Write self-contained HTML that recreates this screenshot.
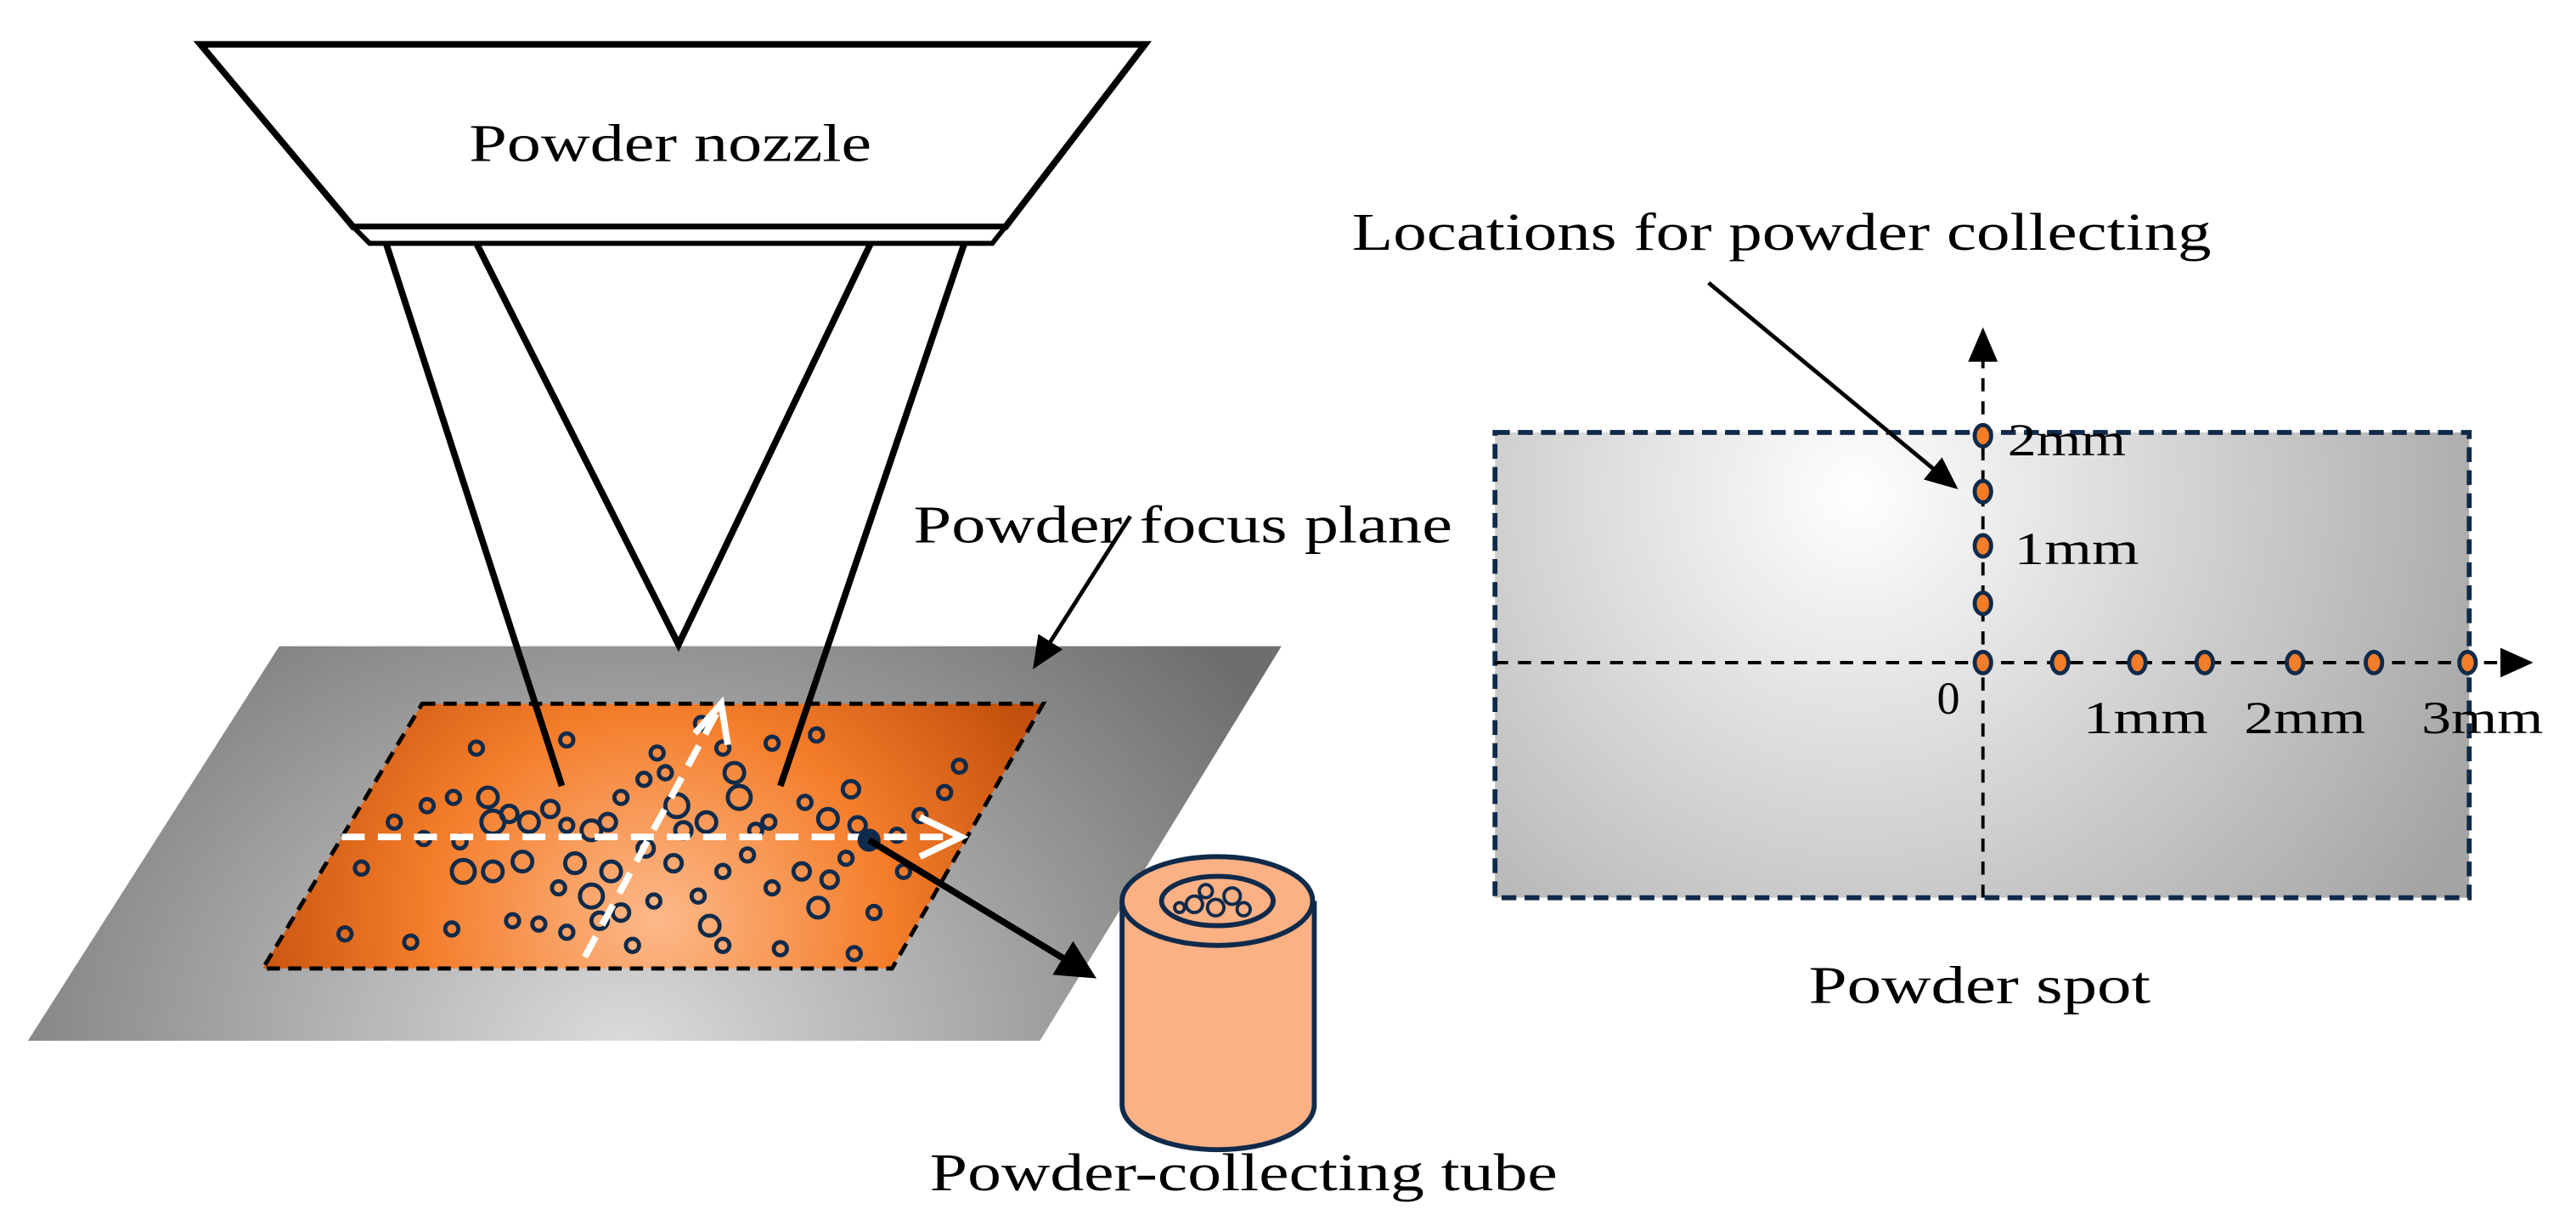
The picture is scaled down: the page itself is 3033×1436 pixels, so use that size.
<!DOCTYPE html>
<html><head><meta charset="utf-8"><style>html,body{margin:0;padding:0;background:#fff}svg{display:block}</style></head>
<body>
<svg width="3033" height="1436" viewBox="0 0 1568 742" preserveAspectRatio="none" xmlns="http://www.w3.org/2000/svg">
<defs>
<radialGradient id="gp" gradientUnits="userSpaceOnUse" cx="380" cy="640" r="470" gradientTransform="translate(380 640) scale(1 0.8) translate(-380 -640)">
<stop offset="0" stop-color="#dcdcdc"/><stop offset="1" stop-color="#6e6e6e"/></radialGradient>
<radialGradient id="go" gradientUnits="userSpaceOnUse" cx="400" cy="560" r="260" gradientTransform="translate(400 560) scale(1 0.9) translate(-400 -560)">
<stop offset="0" stop-color="#fcb98a"/><stop offset="0.55" stop-color="#f47d2a"/><stop offset="1" stop-color="#c24f0c"/></radialGradient>
<radialGradient id="gr" gradientUnits="userSpaceOnUse" cx="1130" cy="300" r="420">
<stop offset="0" stop-color="#ffffff"/><stop offset="1" stop-color="#a4a4a4"/></radialGradient>
<marker id="ah" markerWidth="6" markerHeight="6" refX="5" refY="3" orient="auto" markerUnits="strokeWidth"><path d="M0,0L6,3L0,6z" fill="#000"/></marker>
<marker id="ah2" markerWidth="8" markerHeight="8" refX="7" refY="4" orient="auto" markerUnits="strokeWidth"><path d="M0,0.5L8,4L0,7.5z" fill="#000"/></marker>
</defs>
<polygon points="122,27 697,27 612,138 215,138" fill="#fff" stroke="#000" stroke-width="4"/>
<polygon points="215,138 612,138 604,148 225,148" fill="#fff" stroke="#000" stroke-width="3"/>
<text x="408" y="98" font-family="Liberation Serif, serif" font-size="32" text-anchor="middle" textLength="245" lengthAdjust="spacingAndGlyphs">Powder nozzle</text>
<polygon points="170,393 780,393 633,633 17,633" fill="url(#gp)"/>
<polygon points="257,428 635,428 543,589 160,589" fill="url(#go)" stroke="#000" stroke-width="2.5" stroke-dasharray="8,5"/>
<g fill="none" stroke="#0f2a4a" stroke-width="2.5">
<circle cx="290" cy="455" r="4"/><circle cx="260" cy="490" r="4"/><circle cx="276" cy="485" r="4"/><circle cx="297" cy="485" r="6"/><circle cx="300" cy="500" r="7"/><circle cx="322" cy="500" r="6"/><circle cx="335" cy="492" r="5"/><circle cx="345" cy="502" r="4"/><circle cx="370" cy="500" r="5"/><circle cx="378" cy="485" r="4"/><circle cx="392" cy="474" r="4"/><circle cx="412" cy="490" r="7"/><circle cx="430" cy="500" r="6"/><circle cx="447" cy="470" r="6"/><circle cx="450" cy="485" r="7"/><circle cx="468" cy="500" r="4"/><circle cx="490" cy="488" r="4"/><circle cx="504" cy="498" r="6"/><circle cx="518" cy="480" r="5"/><circle cx="522" cy="502" r="5"/><circle cx="546" cy="508" r="4"/><circle cx="560" cy="496" r="4"/><circle cx="575" cy="482" r="4"/><circle cx="258" cy="510" r="4"/><circle cx="280" cy="512" r="4"/><circle cx="220" cy="528" r="4"/><circle cx="282" cy="530" r="7"/><circle cx="300" cy="530" r="6"/><circle cx="318" cy="524" r="6"/><circle cx="340" cy="540" r="4"/><circle cx="350" cy="525" r="6"/><circle cx="360" cy="545" r="7"/><circle cx="372" cy="530" r="6"/><circle cx="378" cy="555" r="5"/><circle cx="398" cy="548" r="4"/><circle cx="410" cy="525" r="5"/><circle cx="425" cy="545" r="4"/><circle cx="440" cy="530" r="4"/><circle cx="455" cy="520" r="4"/><circle cx="470" cy="540" r="4"/><circle cx="488" cy="530" r="5"/><circle cx="498" cy="552" r="6"/><circle cx="505" cy="535" r="5"/><circle cx="515" cy="522" r="4"/><circle cx="210" cy="568" r="4"/><circle cx="250" cy="573" r="4"/><circle cx="275" cy="565" r="4"/><circle cx="312" cy="560" r="4"/><circle cx="328" cy="562" r="4"/><circle cx="345" cy="567" r="4"/><circle cx="385" cy="575" r="4"/><circle cx="432" cy="563" r="6"/><circle cx="440" cy="575" r="4"/><circle cx="475" cy="577" r="4"/><circle cx="520" cy="580" r="4"/><circle cx="532" cy="555" r="4"/><circle cx="584" cy="466" r="4"/><circle cx="470" cy="452" r="4"/><circle cx="497" cy="447" r="4"/><circle cx="400" cy="458" r="4"/><circle cx="345" cy="450" r="4"/><circle cx="460" cy="505" r="4"/><circle cx="416" cy="505" r="5"/><circle cx="393" cy="516" r="5"/><circle cx="360" cy="505" r="6"/><circle cx="240" cy="500" r="4"/><circle cx="440" cy="455" r="4"/><circle cx="427" cy="440" r="4"/><circle cx="405" cy="470" r="4"/><circle cx="550" cy="530" r="4"/><circle cx="365" cy="560" r="5"/><circle cx="310" cy="495" r="5"/></g>
<line x1="208" y1="509" x2="580" y2="509" stroke="#fff" stroke-width="4" stroke-dasharray="14,8"/>
<polyline points="560,497 585,509 560,521" fill="none" stroke="#fff" stroke-width="4"/>
<line x1="356" y1="582" x2="436" y2="434" stroke="#fff" stroke-width="4" stroke-dasharray="14,8"/>
<polyline points="423,446 439,428 443,453" fill="none" stroke="#fff" stroke-width="4"/>
<g stroke="#000" stroke-width="4" fill="none">
<line x1="235" y1="148" x2="342" y2="478"/>
<polyline points="290,148 413,392 530,148"/>
<line x1="587" y1="148" x2="475" y2="478"/>
</g>
<circle cx="529" cy="511" r="7" fill="#0f2a4a"/>
<line x1="529" y1="511" x2="664" y2="593" stroke="#000" stroke-width="4" marker-end="url(#ah)"/>
<path d="M683,548 L683,672 A58,27 0 0 0 800,672 L800,548" fill="#fcb185" stroke="#0f2a4a" stroke-width="3"/>
<ellipse cx="741" cy="548" rx="58" ry="27" fill="#fcb185" stroke="#0f2a4a" stroke-width="3"/>
<ellipse cx="741" cy="548" rx="34" ry="15" fill="#fcb185" stroke="#0f2a4a" stroke-width="3"/>
<g fill="none" stroke="#0f2a4a" stroke-width="2"><circle cx="727" cy="550" r="5"/><circle cx="740" cy="552" r="5"/><circle cx="750" cy="545" r="5"/><circle cx="757" cy="553" r="4"/><circle cx="734" cy="542" r="4"/><circle cx="718" cy="552" r="3"/></g>
<text x="566" y="724" font-family="Liberation Serif, serif" font-size="32" textLength="382" lengthAdjust="spacingAndGlyphs">Powder-collecting tube</text>
<text x="556" y="330" font-family="Liberation Serif, serif" font-size="32" textLength="328" lengthAdjust="spacingAndGlyphs">Powder focus plane</text>
<line x1="688" y1="314" x2="630" y2="405" stroke="#000" stroke-width="2.5" marker-end="url(#ah2)"/>
<text x="823" y="152" font-family="Liberation Serif, serif" font-size="32" textLength="523" lengthAdjust="spacingAndGlyphs">Locations for powder collecting</text>
<rect x="910" y="263" width="593" height="283" fill="url(#gr)" stroke="#0f2a4a" stroke-width="3" stroke-dasharray="9,5"/>
<line x1="1207" y1="546" x2="1207" y2="218" stroke="#000" stroke-width="2" stroke-dasharray="8,6"/>
<polygon points="1198,220 1216,220 1207,199" fill="#000"/>
<line x1="910" y1="403" x2="1522" y2="403" stroke="#000" stroke-width="2" stroke-dasharray="8,6"/>
<polygon points="1522,394 1522,412 1542,403" fill="#000"/>
<line x1="1040" y1="172" x2="1190" y2="296" stroke="#000" stroke-width="2.5" marker-end="url(#ah2)"/>
<g fill="#f47d2a" stroke="#0f2a4a" stroke-width="2.5">
<ellipse cx="1207" cy="265" rx="5" ry="6.5"/><ellipse cx="1207" cy="299" rx="5" ry="6.5"/><ellipse cx="1207" cy="332" rx="5" ry="6.5"/><ellipse cx="1207" cy="367" rx="5" ry="6.5"/><ellipse cx="1207" cy="403" rx="5" ry="6.5"/>
<ellipse cx="1254" cy="403" rx="5" ry="6.5"/><ellipse cx="1301" cy="403" rx="5" ry="6.5"/><ellipse cx="1342" cy="403" rx="5" ry="6.5"/><ellipse cx="1397" cy="403" rx="5" ry="6.5"/><ellipse cx="1445" cy="403" rx="5" ry="6.5"/><ellipse cx="1502" cy="403" rx="5" ry="6.5"/></g>
<g font-family="Liberation Serif, serif" font-size="28">
<text x="1222" y="277" textLength="72" lengthAdjust="spacingAndGlyphs">2mm</text>
<text x="1226" y="343" textLength="76" lengthAdjust="spacingAndGlyphs">1mm</text>
<text x="1179" y="434">0</text>
<text x="1268" y="446" textLength="76" lengthAdjust="spacingAndGlyphs">1mm</text>
<text x="1366" y="446" textLength="74" lengthAdjust="spacingAndGlyphs">2mm</text>
<text x="1474" y="446" textLength="74" lengthAdjust="spacingAndGlyphs">3mm</text>
</g>
<text x="1205" y="610" font-family="Liberation Serif, serif" font-size="32" text-anchor="middle" textLength="208" lengthAdjust="spacingAndGlyphs">Powder spot</text>
</svg>
</body></html>
